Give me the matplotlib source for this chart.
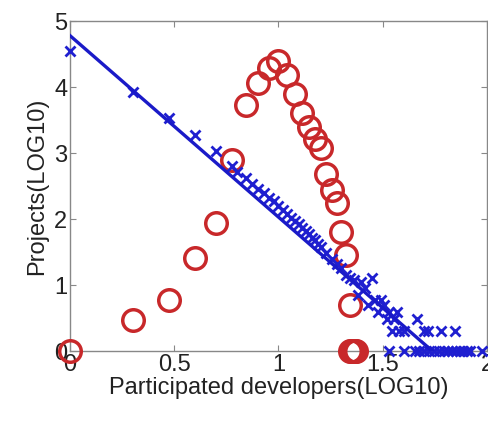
import numpy as np
import matplotlib
matplotlib.use("Agg")
import matplotlib.pyplot as plt

plt.rcParams['font.family'] = ['Liberation Sans', 'DejaVu Sans']

# developers per project (log10) vs. number of projects (log10), blue crosses
dev_x = [0.0, 0.301, 0.477, 0.602, 0.699, 0.778, 0.80, 0.845, 0.875, 0.903,
         0.93, 0.954, 0.98, 1.0, 1.02, 1.041, 1.06, 1.079, 1.10, 1.114,
         1.13, 1.146, 1.16, 1.176, 1.19, 1.204, 1.230, 1.255, 1.279, 1.301,
         1.322, 1.342, 1.362, 1.380, 1.398, 1.415, 1.431, 1.447, 1.462, 1.477,
         1.491, 1.505, 1.519, 1.531, 1.544, 1.556, 1.568, 1.58, 1.602, 1.663,
         1.699, 1.716, 1.778, 1.845, 1.531, 1.602, 1.653, 1.672, 1.699, 1.724,
         1.748, 1.771, 1.792, 1.813, 1.833, 1.851, 1.869, 1.886, 1.903, 1.919,
         1.978]
dev_y = [4.55, 3.93, 3.53, 3.27, 3.03, 2.80, 2.72, 2.62, 2.53, 2.45,
         2.40, 2.32, 2.27, 2.20, 2.14, 2.08, 2.02, 1.97, 1.93, 1.86,
         1.82, 1.77, 1.72, 1.69, 1.62, 1.58, 1.48, 1.40, 1.32, 1.26,
         1.15, 1.11, 1.08, 0.85, 1.04, 0.95, 0.70, 1.11, 0.78, 0.60,
         0.78, 0.70, 0.48, 0.60, 0.30, 0.48, 0.60, 0.30, 0.30, 0.48,
         0.30, 0.30, 0.30, 0.30, 0.0, 0.0, 0.0, 0.0, 0.0, 0.0,
         0.0, 0.0, 0.0, 0.0, 0.0, 0.0, 0.0, 0.0, 0.0, 0.0,
         0.0]

# least-squares fit of the crosses
fit_intercept = 4.78
fit_slope = -2.75

# red circles
proj_x = [0.0, 0.301, 0.477, 0.602, 0.699, 0.778, 0.845, 0.903, 0.954, 1.0,
          1.041, 1.079, 1.114, 1.146, 1.176, 1.204, 1.230, 1.255, 1.279, 1.301,
          1.322, 1.342, 1.345, 1.350, 1.355, 1.360, 1.365, 1.370]
proj_y = [0.0, 0.477, 0.778, 1.41, 1.94, 2.90, 3.73, 4.06, 4.29, 4.40,
          4.18, 3.90, 3.60, 3.39, 3.22, 3.07, 2.69, 2.44, 2.24, 1.80,
          1.45, 0.70, 0.0, 0.0, 0.0, 0.0, 0.0, 0.0]

fig = plt.figure(figsize=(4.89, 4.21), dpi=100)
ax = fig.add_axes([0.143, 0.166, 0.853, 0.784])

ax.plot(proj_x, proj_y, 'o', mfc='none', mec='#c8282a', mew=2.5, ms=15.5,
        ls='none', clip_on=False, zorder=3)
ax.plot(dev_x, dev_y, 'x', color='#1f1fd0', mew=2.0, ms=6.5,
        ls='none', clip_on=False, zorder=4)

x_end = -fit_intercept / fit_slope
xs = np.array([0.0, x_end])
ax.plot(xs, fit_intercept + fit_slope * xs, '-', color='#1a1ac8', lw=2.4,
        zorder=4)

ax.set_xlim(0, 2)
ax.set_ylim(0, 5)
ax.set_xticks([0, 0.5, 1, 1.5, 2])
ax.set_xticklabels(['0', '0.5', '1', '1.5', '2'])
ax.set_yticks([0, 1, 2, 3, 4, 5])
ax.tick_params(direction='in', top=True, right=True, length=4, width=0.8,
               labelsize=17, colors='#888888', labelcolor='#222222', pad=2)
for sp in ax.spines.values():
    sp.set_color('#888888')
    sp.set_linewidth(1.0)

ax.set_xlabel('Participated developers(LOG10)', fontsize=17, color='#222222',
              labelpad=1)
ax.set_ylabel('Projects(LOG10)', fontsize=17, color='#222222', labelpad=4)

fig.savefig('out.png', dpi=100)
